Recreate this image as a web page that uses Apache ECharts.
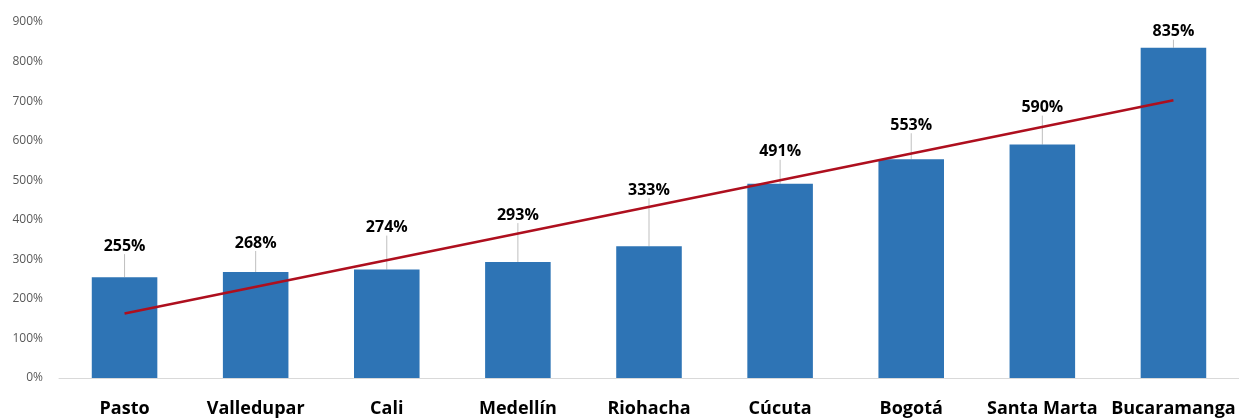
<!DOCTYPE html>
<html>
<head>
<meta charset="utf-8">
<script src="https://cdn.jsdelivr.net/npm/echarts@6/dist/echarts.min.js"></script>
<style>
html,body{margin:0;padding:0;background:#fff;}
#chart{width:1239px;height:419px;}
</style>
</head>
<body>
<div id="chart"></div>
<script>
const categories = ['Pasto', 'Valledupar', 'Cali', 'Medellín', 'Riohacha', 'Cúcuta', 'Bogotá', 'Santa Marta', 'Bucaramanga'];
const values = [255, 268, 274, 293, 333, 491, 553, 590, 835];
const trendStart = 163;
const trendEnd = 702;
const yTicks = [0, 100, 200, 300, 400, 500, 600, 700, 800, 900];

// label vertical shifts (styling, not data)
const labelShift = [-18, -16, -29, -34, -43, -19, -21, -24, -3];

const chart = echarts.init(document.getElementById('chart'), null, {renderer: 'canvas'});
chart.setOption({
  animation: false,
  backgroundColor: '#ffffff',
  grid: {left: 59, top: 22, bottom: 41, width: 1190, containLabel: false},
  xAxis: {
    type: 'category',
    data: categories,
    axisTick: {show: false},
    axisLine: {lineStyle: {color: '#d9d9d9', width: 1}},
    axisLabel: {
      interval: 0,
      margin: 22,
      color: '#000000',
      fontFamily: 'Open Sans',
      fontWeight: 'bold',
      fontSize: 18
    }
  },
  yAxis: {
    type: 'value',
    min: yTicks[0],
    max: yTicks[yTicks.length - 1],
    interval: 100,
    splitLine: {show: false},
    axisLine: {show: false},
    axisTick: {show: false},
    axisLabel: {
      margin: 16,
      color: '#595959',
      fontFamily: 'Open Sans',
      fontSize: 12,
      formatter: v => v + '%'
    }
  },
  series: [{
    type: 'bar',
    data: values,
    barWidth: '50%',
    itemStyle: {color: '#2E74B5'},
    label: {
      show: true,
      position: 'top',
      distance: 5,
      color: '#000000',
      fontFamily: 'Open Sans',
      fontWeight: 'bold',
      fontSize: 16,
      formatter: p => p.value + '%'
    },
    labelLayout: p => ({dy: labelShift[p.dataIndex]}),
    labelLine: {show: true, lineStyle: {color: '#bfbfbf', width: 1}},
    markLine: {
      silent: true,
      symbol: ['none', 'none'],
      label: {show: false},
      lineStyle: {color: '#AE0F1E', width: 2.5, type: 'solid'},
      data: [[{coord: [0, trendStart]}, {coord: [categories.length - 1, trendEnd]}]]
    }
  }]
});
</script>
</body>
</html>
